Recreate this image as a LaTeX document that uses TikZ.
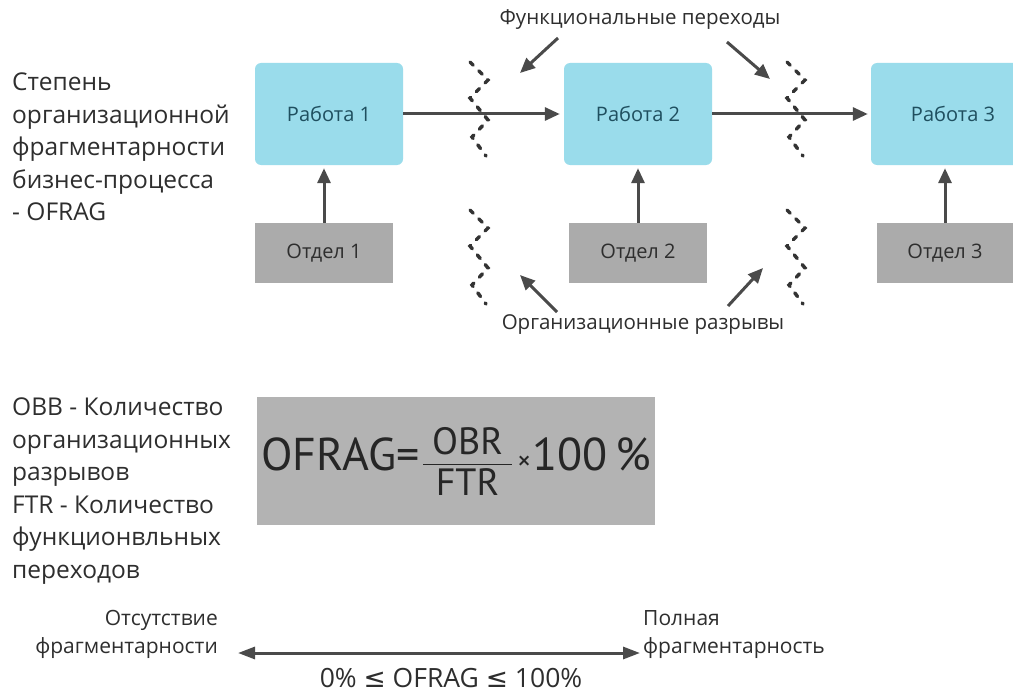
\documentclass[tikz,border=0pt]{standalone}
\usepackage{fontspec}
\usepackage{amsmath}
\setmainfont{Open Sans}
\newfontfamily\formfont{PT Sans}
\newfontfamily\symfont{DejaVu Sans}
\usetikzlibrary{arrows.meta,calc}
\definecolor{boxblue}{HTML}{9ADCEB}
\definecolor{boxgray}{HTML}{ABABAB}
\definecolor{formgray}{HTML}{B3B3B3}
\definecolor{txtgray}{HTML}{2E2E2E}
\definecolor{workteal}{HTML}{1F4F5F}
\definecolor{arrgray}{HTML}{4A4A4A}
\begin{document}
\begin{tikzpicture}[x=1pt,y=-1pt,
  workbox/.style={fill=boxblue, rounded corners=6pt, minimum width=148pt, minimum height=102pt, inner sep=0pt, font=\fontsize{20}{22}\selectfont, text=workteal},
  deptbox/.style={fill=boxgray, minimum width=138pt, minimum height=60pt, inner sep=0pt, font=\fontsize{20}{22}\selectfont, text=txtgray},
  formbox/.style={fill=formgray, minimum width=398pt, minimum height=128pt, inner sep=0pt, text=black!85},
  conn/.style={draw=arrgray, line width=3pt, -{Triangle[length=15pt,width=13pt]}},
  dconn/.style={draw=arrgray, line width=3pt, {Triangle[length=17pt,width=12pt]}-{Triangle[length=17pt,width=12pt]}},
  zigzag/.style={draw=black!80, line width=3.5pt, line cap=round, dash pattern=on 4.5pt off 8pt},
  lbl/.style={inner sep=0pt, font=\fontsize{20.5}{22}\selectfont, text=txtgray},
  sidetext/.style={inner sep=0pt, align=left, font=\fontsize{24.5}{32.5}\selectfont, text=txtgray},
  endtext/.style={inner sep=0pt, font=\fontsize{21}{28}\selectfont, text=txtgray}
]
\useasboundingbox (0,0) rectangle (1013,693);
\clip (0,0) rectangle (1013,693);
\fill[white] (0,0) rectangle (1013,693);

% work and department boxes
\node[workbox] (r1) at (329,114) {Работа 1};
\node[workbox] (r2) at (638,114) {Работа 2};
\node[workbox, minimum width=164pt] (r3) at (953,114) {Работа 3};
\node[deptbox] (o1) at (324,253) {Отдел 1};
\node[deptbox] (o2) at (638,253) {Отдел 2};
\node[deptbox, minimum width=136pt] (o3) at (945,253) {Отдел 3};

% connectors
\draw[conn, shorten >=4pt] (r1.east) -- (r2.west);
\draw[conn, shorten >=3pt] (r2.east) -- (r3.west);
\draw[conn, shorten >=3pt] (o1.north) -- (o1.north |- r1.south);
\draw[conn, shorten >=3pt] (o2.north) -- (o2.north |- r2.south);
\draw[conn, shorten >=3pt] (o3.north) -- (o3.north |- r3.south);

% zigzag boundaries
\foreach \dx/\dy in {0/0, 0/148, 317/0, 317/148}
  \draw[zigzag, shift={(\dx,\dy)}] (470,62) -- (488,80) -- (470,98) -- (488,120) -- (472,137) -- (486,156);

% labels with pointer arrows
\node[lbl, anchor=base] (fp) at (640,25) {Функциональные переходы};
\node[lbl, anchor=base] (ob) at (643,329) {Организационные разрывы};
\coordinate (fa1s) at (558,38);  \coordinate (fa1e) at (520,73);
\coordinate (fa2s) at (727,42);  \coordinate (fa2e) at (770,79);
\coordinate (oa1s) at (557,312); \coordinate (oa1e) at (520,275);
\coordinate (oa2s) at (728,306); \coordinate (oa2e) at (763,268);
\draw[conn] (fa1s) -- (fa1e);
\draw[conn] (fa2s) -- (fa2e);
\draw[conn] (oa1s) -- (oa1e);
\draw[conn] (oa2s) -- (oa2e);

% side texts
\node[sidetext, anchor=north west] (t1) at (12,73) {Степень\\организационной\\фрагментарности\\бизнес-процесса\\- OFRAG};
\node[sidetext, anchor=north west] (t2) at (12,398) {OBB - Количество\\организационных\\разрывов\\FTR - Количество\\функционвльных\\переходов};

% formula
\node[formbox] (fb) at (456,461) {\formfont{\fontsize{46}{48}\selectfont OFRAG=\hspace{2pt}$\dfrac{\text{\formfont\fontsize{38}{40}\selectfont\hspace{9pt}OBR\hspace{9pt}}}{\text{\formfont\fontsize{38}{40}\selectfont FTR}}$\hspace{4pt}{\fontsize{28}{30}\selectfont ×}\hspace{1pt}100\,\%\hspace{10pt}}};

% bottom scale
\node[endtext, anchor=north east, align=right] (lo) at (218,610) {Отсутствие\\фрагментарности};
\node[endtext, anchor=north west, align=left] (hi) at (643,610) {Полная\\фрагментарность};
\coordinate (sl) at (238,653);
\coordinate (sr) at (640,653);
\draw[dconn] (sl) -- (sr);
\node[inner sep=0pt, anchor=base, font=\fontsize{26.5}{28}\selectfont, text=txtgray] (rng) at (451,687) {0\%~{\symfont ≤}~OFRAG~{\symfont ≤}~100\%};
\end{tikzpicture}
\end{document}
